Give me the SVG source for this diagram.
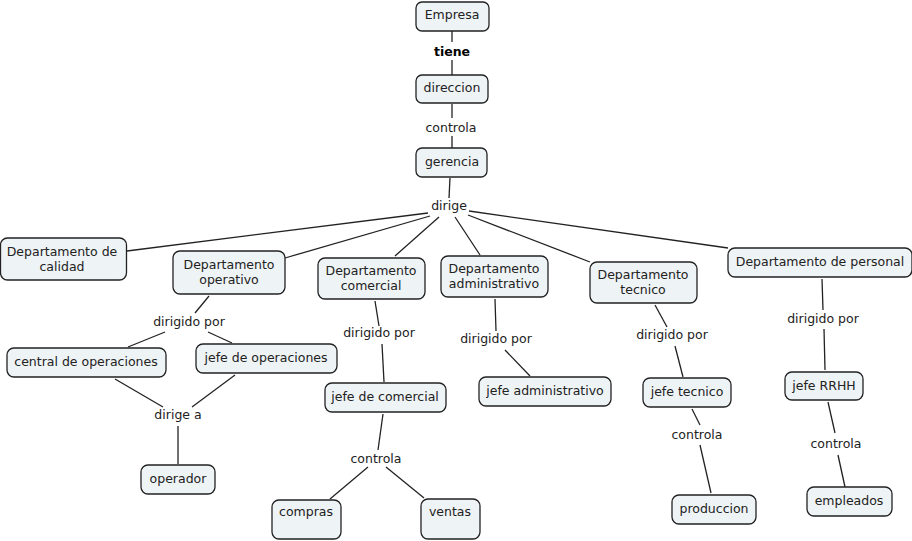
<svg xmlns="http://www.w3.org/2000/svg" width="912" height="541" viewBox="0 0 912 541">
<style>
.n rect{fill:#eef3f5;stroke:#222;stroke-width:1.3}
text{font-family:"DejaVu Sans","Verdana",sans-serif;font-size:12.5px;fill:#222;text-anchor:middle}
.b{font-weight:bold;fill:#000}
#links line{stroke:#222;stroke-width:1.3}
</style>
<rect width="912" height="541" fill="#fff"/>
<g id="links">
<line x1="452" y1="31" x2="452" y2="42"/>
<line x1="452" y1="60" x2="452" y2="75"/>
<line x1="452" y1="104" x2="452" y2="118"/>
<line x1="452" y1="136" x2="452" y2="148"/>
<line x1="450" y1="178" x2="449" y2="198"/>
<line x1="127" y1="251" x2="428" y2="213"/>
<line x1="285" y1="258" x2="430" y2="216"/>
<line x1="395" y1="256" x2="439" y2="217"/>
<line x1="480" y1="255" x2="455" y2="217"/>
<line x1="590" y1="262" x2="468" y2="215"/>
<line x1="728" y1="248" x2="469" y2="211"/>
<line x1="209" y1="296" x2="195" y2="313"/>
<line x1="165" y1="332" x2="128" y2="347"/>
<line x1="208" y1="332" x2="232" y2="343"/>
<line x1="115" y1="379" x2="163" y2="407"/>
<line x1="235" y1="375" x2="192" y2="407"/>
<line x1="178" y1="426" x2="178" y2="464"/>
<line x1="375" y1="301" x2="379" y2="326"/>
<line x1="382" y1="344" x2="384" y2="382"/>
<line x1="383" y1="414" x2="378" y2="450"/>
<line x1="368" y1="467" x2="330" y2="499"/>
<line x1="386" y1="467" x2="424" y2="498"/>
<line x1="495" y1="299" x2="496" y2="331"/>
<line x1="505" y1="350" x2="530" y2="376"/>
<line x1="655" y1="305" x2="667" y2="327"/>
<line x1="675" y1="346" x2="683" y2="377"/>
<line x1="692" y1="409" x2="700" y2="425"/>
<line x1="700" y1="445" x2="711" y2="493"/>
<line x1="822" y1="279" x2="823" y2="310"/>
<line x1="824" y1="329" x2="825" y2="370"/>
<line x1="828" y1="402" x2="835" y2="433"/>
<line x1="838" y1="455" x2="845" y2="487"/>
<text x="452" y="56" class="b">tiene</text>
<text x="451" y="132">controla</text>
<text x="449" y="210">dirige</text>
<text x="189" y="326">dirigido por</text>
<text x="178" y="419">dirige a</text>
<text x="379" y="337">dirigido por</text>
<text x="376" y="463">controla</text>
<text x="496" y="343">dirigido por</text>
<text x="672" y="339">dirigido por</text>
<text x="697" y="439">controla</text>
<text x="823" y="323">dirigido por</text>
<text x="836" y="448">controla</text>
</g>
<g id="empresa" class="n"><rect x="416" y="2" width="73" height="29" rx="6"/><text x="452" y="19">Empresa</text></g>
<g id="direccion" class="n"><rect x="416" y="75" width="72" height="28" rx="6"/><text x="452" y="92">direccion</text></g>
<g id="gerencia" class="n"><rect x="416" y="148" width="71" height="29" rx="6"/><text x="452" y="166">gerencia</text></g>
<g id="calidad" class="n"><rect x="0.5" y="238" width="126" height="42" rx="7"/><text x="62" y="256">Departamento de</text><text x="62" y="271">calidad</text></g>
<g id="operativo" class="n"><rect x="173" y="251" width="112" height="43" rx="7"/><text x="229" y="269">Departamento</text><text x="229" y="284">operativo</text></g>
<g id="comercial" class="n"><rect x="318" y="258" width="107" height="41" rx="7"/><text x="371" y="275">Departamento</text><text x="371" y="290">comercial</text></g>
<g id="administrativo" class="n"><rect x="441" y="256" width="107" height="41" rx="7"/><text x="494" y="273">Departamento</text><text x="494" y="288">administrativo</text></g>
<g id="tecnico" class="n"><rect x="590" y="262" width="107" height="41" rx="7"/><text x="643" y="279">Departamento</text><text x="643" y="294">tecnico</text></g>
<g id="personal" class="n"><rect x="728" y="248" width="184" height="29" rx="7"/><text x="820" y="266">Departamento de personal</text></g>
<g id="central" class="n"><rect x="7" y="348" width="159" height="29" rx="7"/><text x="86" y="366">central de operaciones</text></g>
<g id="jefeop" class="n"><rect x="196" y="344" width="141" height="29" rx="7"/><text x="266" y="362">jefe de operaciones</text></g>
<g id="operador" class="n"><rect x="141" y="465" width="74" height="29" rx="7"/><text x="178" y="483">operador</text></g>
<g id="jefecom" class="n"><rect x="325" y="383" width="121" height="29" rx="7"/><text x="385" y="401">jefe de comercial</text></g>
<g id="compras" class="n"><rect x="272" y="500" width="69" height="39" rx="7"/><text x="306" y="516">compras</text></g>
<g id="ventas" class="n"><rect x="421" y="499" width="59" height="40" rx="7"/><text x="450" y="516">ventas</text></g>
<g id="jefeadm" class="n"><rect x="479" y="377" width="132" height="29" rx="7"/><text x="545" y="395">jefe administrativo</text></g>
<g id="jefetec" class="n"><rect x="643" y="378" width="88" height="29" rx="7"/><text x="687" y="396">jefe tecnico</text></g>
<g id="produccion" class="n"><rect x="672" y="495" width="84" height="29" rx="7"/><text x="714" y="513">produccion</text></g>
<g id="jeferrhh" class="n"><rect x="785" y="372" width="78" height="28" rx="7"/><text x="824" y="390">jefe RRHH</text></g>
<g id="empleados" class="n"><rect x="807" y="487" width="85" height="29" rx="7"/><text x="849" y="505">empleados</text></g>
</svg>
